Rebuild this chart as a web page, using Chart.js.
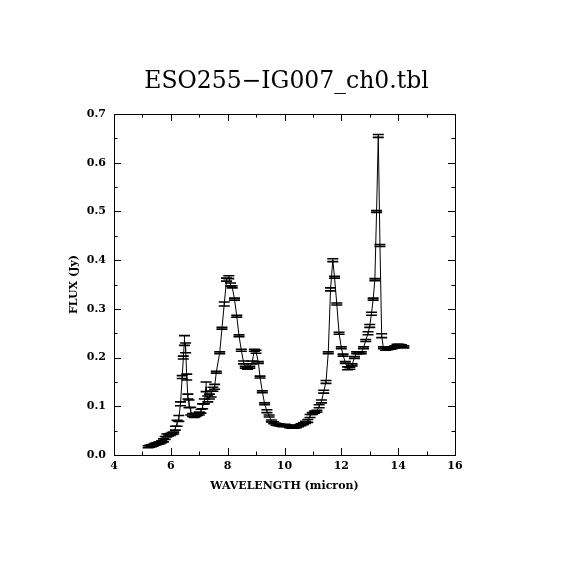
<!DOCTYPE html>
<html>
<head>
<meta charset="utf-8">
<script src="https://cdn.jsdelivr.net/npm/chart.js@4"></script>
<style>
html,body{margin:0;padding:0;background:#fff;}
#wrap{width:570px;height:570px;}
</style>
</head>
<body>
<div id="wrap"><canvas id="c" width="570" height="570"></canvas></div>
<script>
const chartTitle = "ESO255\u2212IG007_ch0.tbl";
const xAxisTitle = "WAVELENGTH (micron)";
const yAxisTitle = "FLUX (Jy)";

const wavelengths = [
5.20,5.26,5.32,5.38,5.44,5.50,5.56,5.62,5.68,5.74,5.80,5.86,5.92,5.98,6.04,6.10,6.16,6.22,6.28,6.34,
6.40,6.44,6.48,6.52,6.56,6.60,6.64,6.70,6.76,6.82,6.88,6.94,7.00,7.06,7.12,7.18,7.24,7.30,7.36,7.42,
7.48,7.54,7.60,7.72,7.80,7.88,7.96,8.04,8.10,8.16,8.24,8.32,8.40,8.48,8.56,8.62,8.70,8.78,8.86,8.94,
9.00,9.08,9.14,9.22,9.30,9.38,9.46,9.54,9.62,9.70,9.78,9.86,9.94,10.02,10.10,10.18,10.26,10.34,10.42,10.50,
10.58,10.66,10.74,10.82,10.90,10.98,11.06,11.14,11.22,11.30,11.38,11.46,11.54,11.62,11.70,11.76,11.84,11.92,12.00,12.06,
12.14,12.22,12.30,12.38,12.46,12.54,12.62,12.70,12.78,12.86,12.94,13.00,13.06,13.12,13.18,13.24,13.30,13.36,13.42,13.48,
13.56,13.64,13.72,13.80,13.88,13.96,14.04,14.12,14.20
];
const flux = [
0.017,0.018,0.019,0.020,0.022,0.023,0.024,0.025,0.027,0.030,0.035,0.040,0.041,0.042,0.044,0.045,0.055,0.065,0.075,0.105,
0.160,0.200,0.235,0.220,0.160,0.120,0.105,0.090,0.082,0.080,0.082,0.083,0.085,0.090,0.100,0.110,0.140,0.115,0.120,0.125,
0.135,0.140,0.170,0.210,0.260,0.310,0.360,0.365,0.350,0.345,0.320,0.285,0.245,0.215,0.190,0.180,0.178,0.180,0.190,0.215,
0.212,0.190,0.160,0.130,0.105,0.090,0.080,0.070,0.066,0.063,0.062,0.061,0.060,0.061,0.060,0.058,0.057,0.057,0.058,0.060,
0.062,0.064,0.067,0.070,0.080,0.085,0.088,0.090,0.100,0.110,0.130,0.150,0.210,0.340,0.400,0.365,0.310,0.250,0.220,0.205,
0.190,0.178,0.178,0.185,0.200,0.210,0.210,0.210,0.220,0.235,0.250,0.265,0.290,0.320,0.360,0.500,0.655,0.430,0.245,0.220,
0.217,0.218,0.219,0.220,0.222,0.225,0.225,0.224,0.222
];
const fluxErr = [
0.002,0.002,0.002,0.002,0.002,0.002,0.002,0.002,0.002,0.003,0.003,0.003,0.002,0.002,0.002,0.002,0.004,0.006,0.006,0.004,
0.003,0.003,0.010,0.010,0.006,0.005,0.008,0.008,0.003,0.003,0.003,0.002,0.003,0.004,0.005,0.005,0.010,0.006,0.005,0.006,
0.004,0.005,0.002,0.002,0.002,0.004,0.003,0.003,0.003,0.002,0.002,0.002,0.002,0.002,0.003,0.002,0.002,0.002,0.003,0.002,
0.003,0.002,0.002,0.002,0.002,0.003,0.002,0.002,0.002,0.002,0.002,0.002,0.002,0.002,0.002,0.002,0.002,0.002,0.002,0.002,
0.002,0.002,0.002,0.003,0.003,0.002,0.002,0.002,0.003,0.003,0.003,0.003,0.002,0.003,0.003,0.002,0.002,0.002,0.002,0.002,
0.002,0.003,0.002,0.002,0.002,0.002,0.002,0.002,0.002,0.002,0.003,0.003,0.003,0.002,0.002,0.002,0.003,0.002,0.004,0.002,
0.002,0.002,0.002,0.002,0.002,0.002,0.002,0.002,0.002
];

const xMin = 4, xMax = 16, xMajor = 2, xMinor = 1;
const yMin = 0, yMax = 0.7, yMajor = 0.1, yMinor = 0.05;

const points = wavelengths.map((w, i) => ({x: w, y: flux[i]}));

const serif = "'DejaVu Serif', 'Liberation Serif', serif";

const decorPlugin = {
  id: 'decor',
  afterDatasetsDraw(chart) {
    const ctx = chart.ctx;
    const xs = chart.scales.x, ys = chart.scales.y;
    const a = chart.chartArea;
    ctx.save();
    // error bars
    ctx.strokeStyle = '#000';
    const capHalf = 5.5;
    for (let i = 0; i < wavelengths.length; i++) {
      const px = xs.getPixelForValue(wavelengths[i]);
      const pTop = ys.getPixelForValue(flux[i] + fluxErr[i]);
      const pBot = ys.getPixelForValue(flux[i] - fluxErr[i]);
      ctx.lineWidth = 1;
      ctx.beginPath();
      ctx.moveTo(px, pTop); ctx.lineTo(px, pBot);
      ctx.stroke();
      ctx.lineWidth = 1.6;
      ctx.beginPath();
      ctx.moveTo(px - capHalf, pTop); ctx.lineTo(px + capHalf, pTop);
      ctx.moveTo(px - capHalf, pBot); ctx.lineTo(px + capHalf, pBot);
      ctx.stroke();
    }
    // frame
    ctx.lineWidth = 1;
    ctx.strokeRect(a.left + 0.5, a.top + 0.5, a.right - a.left, a.bottom - a.top);
    // inward ticks on all sides
    ctx.beginPath();
    const nX = Math.round((xMax - xMin) / xMinor);
    for (let k = 0; k <= nX; k++) {
      const v = xMin + k * xMinor;
      const len = (Math.abs((v - xMin) / xMajor - Math.round((v - xMin) / xMajor)) < 1e-6) ? 7 : 3.5;
      const px = Math.round(xs.getPixelForValue(v)) + 0.5;
      ctx.moveTo(px, a.bottom); ctx.lineTo(px, a.bottom - len);
      ctx.moveTo(px, a.top); ctx.lineTo(px, a.top + len);
    }
    const nY = Math.round((yMax - yMin) / yMinor);
    for (let k = 0; k <= nY; k++) {
      const v = yMin + k * yMinor;
      const len = (k % 2 === 0) ? 7 : 3.5;
      const py = Math.round(ys.getPixelForValue(v)) + 0.5;
      ctx.moveTo(a.left, py); ctx.lineTo(a.left + len, py);
      ctx.moveTo(a.right, py); ctx.lineTo(a.right - len, py);
    }
    ctx.stroke();
    // titles
    ctx.fillStyle = '#000';
    ctx.textAlign = 'center';
    ctx.textBaseline = 'middle';
    ctx.font = "23.5px " + serif;
    ctx.fillText(chartTitle, (a.left + a.right) / 2 + 2, 82);
    ctx.font = "bold 11px " + serif;
    ctx.fillText(xAxisTitle, (a.left + a.right) / 2, 486);
    ctx.save();
    ctx.translate(74, (a.top + a.bottom) / 2);
    ctx.rotate(-Math.PI / 2);
    ctx.fillText(yAxisTitle, 0, 0);
    ctx.restore();
    ctx.restore();
  }
};

new Chart(document.getElementById('c'), {
  type: 'line',
  data: {
    datasets: [{
      data: points,
      borderColor: '#000',
      borderWidth: 1,
      pointRadius: 0,
      tension: 0,
      fill: false
    }]
  },
  options: {
    responsive: false,
    animation: false,
    devicePixelRatio: 1,
    layout: {padding: {left: 66, right: 115, top: 114, bottom: 85}},
    plugins: {legend: {display: false}, tooltip: {enabled: false}, title: {display: false}},
    scales: {
      x: {
        type: 'linear', min: xMin, max: xMax,
        grid: {display: false, drawTicks: false},
        border: {display: false},
        afterFit(s) { s.height = 30; },
        ticks: {stepSize: xMajor, padding: 5, color: '#000', font: {family: serif, size: 11, weight: 'bold'},
          callback: v => String(v), maxRotation: 0, autoSkip: false}
      },
      y: {
        type: 'linear', min: yMin, max: yMax,
        grid: {display: false, drawTicks: false},
        border: {display: false},
        afterFit(s) { s.width = 48; },
        ticks: {stepSize: yMajor, padding: 8, color: '#000', font: {family: serif, size: 11, weight: 'bold'},
          callback: v => Number(v).toFixed(1), autoSkip: false}
      }
    }
  },
  plugins: [decorPlugin]
});
</script>
</body>
</html>
